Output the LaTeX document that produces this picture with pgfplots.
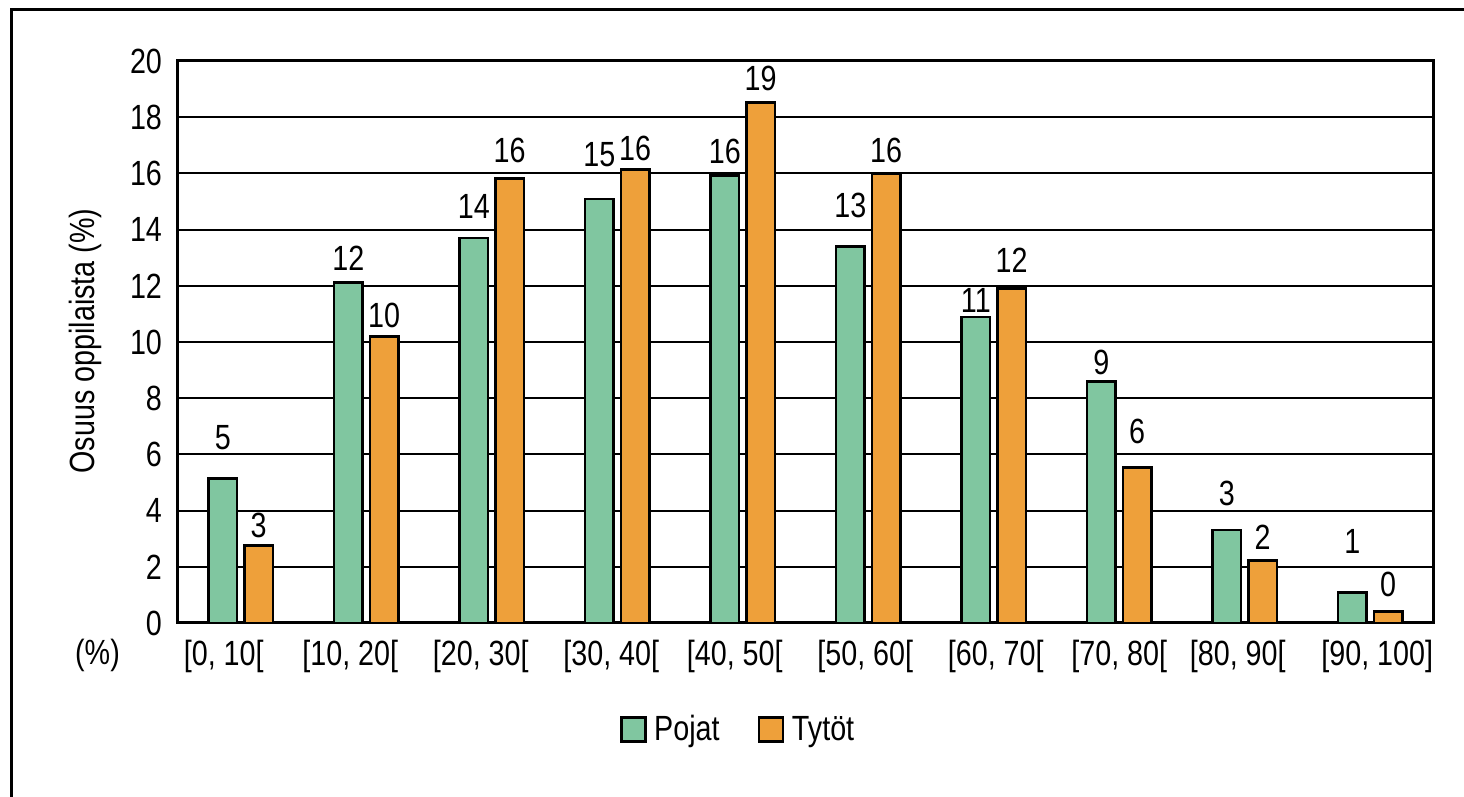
\documentclass[border=0pt]{standalone}
\usepackage{fontspec}
\setmainfont{Liberation Sans}[FakeStretch=0.82]
\usepackage{pgfplots}
\usepackage{pgfplotstable}
\pgfplotsset{compat=1.18}
\definecolor{pojat}{RGB}{128,198,160}
\definecolor{tytot}{RGB}{238,160,58}
\newcommand\lbl{\fontsize{17.5pt}{21pt}\selectfont}
% tick label with a horizontal offset of its text
\newcommand\xl[2]{\hspace*{#1}#2}

% x = class, y = share (%), s = lift of the value label above the bar (pt)
\pgfplotstableread{
x y s
0 5.15 14.25
1 12.13 5.75
2 13.70 9.75
3 15.09 16.25
4 15.92 6.25
5 13.40 14.25
6 10.89 2.25
7 8.58 3.75
8 3.31 12.25
9 1.09 19.25
}\pojatdata
\pgfplotstableread{
x y s
0 2.75 4.25
1 10.20 4.25
2 15.83 7.75
3 16.13 4.75
4 18.52 6.25
5 15.98 5.75
6 11.89 8.25
7 5.52 12.25
8 2.21 5.75
9 0.41 7.25
}\tytotdata

\begin{document}
\begin{tikzpicture}[x=1pt,y=1pt]
\useasboundingbox (0,0) rectangle (732,398.5);
% chart frame
\draw[line width=1.5pt] (5.75,-20) -- (5.75,393.5) -- (760,393.5);
\begin{axis}[
  at={(89pt,87pt)}, anchor=south west,
  scale only axis, width=627.5pt, height=281pt,
  ymin=0, ymax=20, ytick={0,2,...,20},
  xmin=-0.5, xmax=9.5, xtick={0,...,9},
  xticklabels={{\xl{-17pt}{[0, 10[}},{\xl{-16pt}{[10, 20[}},{\xl{-11pt}{[20, 30[}},{\xl{-6pt}{[30, 40[}},{\xl{-8pt}{[40, 50[}},{\xl{-3pt}{[50, 60[}},{\xl{2pt}{[60, 70[}},{\xl{0pt}{[70, 80[}},{\xl{-7pt}{[80, 90[}},{\xl{7pt}{[90, 100]}}},
  major tick length=0pt,
  ymajorgrids, major grid style={black, line width=1pt},
  axis line style={line width=1.5pt},
  tick label style={font=\lbl},
  xticklabel style={yshift=-5pt},
  yticklabel style={xshift=-4.5pt},
  /pgf/number format/assume math mode=true,
  clip=false,
  bar width=0.227,
  visualization depends on={\thisrow{s} \as \lift},
  nodes near coords={\pgfmathprintnumber[fixed,precision=0]{\pgfplotspointmeta}},
  every node near coord/.append style={font=\lbl, text=black, anchor=base, inner sep=0pt, yshift=\lift},
  legend style={at={(0.447,-0.19)}, anchor=center, draw=none, legend columns=2, font=\lbl,
    /tikz/every even column/.append style={column sep=17pt}},
  legend image code/.code={\draw[#1] (0pt,-6pt) rectangle (12pt,6pt); \path[draw=none, fill=none] (0pt,0pt) -- (14.5pt,0pt);},
]
\addplot[ybar, bar shift=-0.143, fill=pojat, draw=black, line width=1.4pt,
  every node near coord/.append style={xshift=-8.97pt}]
  table[x=x, y=y] {\pojatdata};
\addplot[ybar, bar shift=0.143, fill=tytot, draw=black, line width=1.4pt,
  every node near coord/.append style={xshift=8.97pt}]
  table[x=x, y=y] {\tytotdata};
\legend{Pojat, Tytöt}
\end{axis}
\node[rotate=90, font=\lbl] at (42.5,228) {Osuus oppilaista (\%)};
\node[font=\lbl] at (48.75,71) {(\%)};
\end{tikzpicture}
\end{document}
